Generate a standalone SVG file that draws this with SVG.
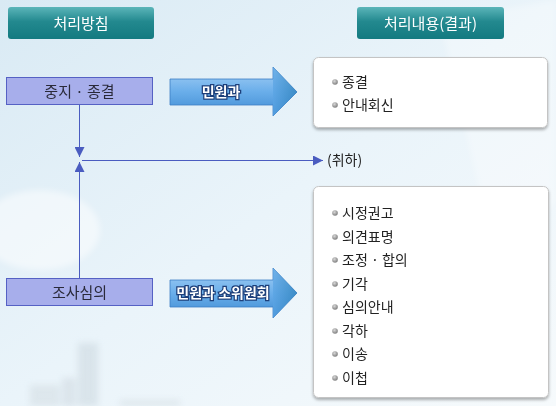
<svg xmlns="http://www.w3.org/2000/svg" width="556" height="406" viewBox="0 0 556 406">
<defs>
  <linearGradient id="bg" x1="0" y1="0" x2="1" y2="1">
    <stop offset="0" stop-color="#d9eaf4"/>
    <stop offset="0.5" stop-color="#eaf4fa"/>
    <stop offset="1" stop-color="#f6fafc"/>
  </linearGradient>
  <linearGradient id="hdr" x1="0" y1="0" x2="0" y2="1">
    <stop offset="0" stop-color="#5bb5b9"/>
    <stop offset="0.45" stop-color="#23898f"/>
    <stop offset="1" stop-color="#137a80"/>
  </linearGradient>
  <linearGradient id="arr" x1="0" y1="0" x2="0" y2="1">
    <stop offset="0" stop-color="#a8d2f6"/>
    <stop offset="0.5" stop-color="#6aaeea"/>
    <stop offset="1" stop-color="#3e8bd2"/>
  </linearGradient>
  <linearGradient id="arrhead" x1="0" y1="0" x2="1" y2="0">
    <stop offset="0" stop-color="#5aa4e4"/>
    <stop offset="1" stop-color="#2a7fb8"/>
  </linearGradient>
  <radialGradient id="dot" cx="0.4" cy="0.35" r="0.7">
    <stop offset="0" stop-color="#d8d8d8"/>
    <stop offset="1" stop-color="#777"/>
  </radialGradient>
  <filter id="sh" x="-10%" y="-10%" width="120%" height="130%">
    <feDropShadow dx="0" dy="2" stdDeviation="1.5" flood-color="#000" flood-opacity="0.3"/>
  </filter>
  <filter id="blur"><feGaussianBlur stdDeviation="3"/></filter>
  <marker id="tri" viewBox="0 0 10 10" refX="10" refY="5" markerWidth="10" markerHeight="10" markerUnits="userSpaceOnUse" orient="auto">
    <path d="M0,0 L10,5 L0,10 Z" fill="#4a5cc0"/>
  </marker>
  <style>
    .hdr-t{font-family:"Noto Sans CJK KR","Noto Sans",sans-serif;font-size:15px;fill:#fff;text-anchor:middle}
    .box{fill:#a7aeeb;stroke:#5561c4;stroke-width:1}
    .box-t{font-family:"Noto Sans CJK KR","Noto Sans",sans-serif;font-size:15px;fill:#2a2a3a;text-anchor:middle}
    .res{fill:#fff;stroke:#c4c4c4;stroke-width:1}
    .item{font-family:"Noto Sans CJK KR","Noto Sans",sans-serif;font-size:14px;fill:#222}
    .arr-t{font-family:"Noto Sans CJK KR","Noto Sans",sans-serif;font-size:14px;font-weight:bold;fill:#fff;stroke:#1d3f7a;stroke-width:2.5;paint-order:stroke;text-anchor:middle}
    .line{stroke:#4a5cc0;stroke-width:1;fill:none}
    .lbl{font-family:"Noto Sans CJK KR","Noto Sans",sans-serif;font-size:14px;fill:#222}
  </style>
</defs>

<rect x="0" y="0" width="556" height="406" fill="url(#bg)"/>
<!-- faint background scenery -->
<g opacity="0.5" filter="url(#blur)">
  <ellipse cx="40" cy="230" rx="60" ry="40" fill="#fff"/>
  <rect x="78" y="343" width="20" height="63" fill="#c8d4dc"/>
  <rect x="62" y="378" width="14" height="28" fill="#ccd6de"/>
  <rect x="30" y="385" width="30" height="21" fill="#d0dae0"/>
  <rect x="120" y="400" width="60" height="6" fill="#d0dae0"/>
  <path d="M440 20 L556 0 L556 200 L500 280 Z" fill="#ffffff" opacity="0.6"/>
</g>

<g id="header-policy">
  <rect x="8" y="7" width="146" height="32" rx="3" fill="url(#hdr)"/>
  <text class="hdr-t" x="81" y="28.5">처리방침</text>
</g>
<g id="header-result">
  <rect x="357" y="7" width="147" height="32" rx="3" fill="url(#hdr)"/>
  <text class="hdr-t" x="430.5" y="28.5">처리내용(결과)</text>
</g>

<g id="node-stop">
  <rect class="box" x="6.5" y="77.5" width="146" height="27"/>
  <text class="box-t" x="79.5" y="96.5">중지 · 종결</text>
</g>
<g id="node-review">
  <rect class="box" x="6.5" y="278.5" width="146" height="27"/>
  <text class="box-t" x="79.5" y="297.5">조사심의</text>
</g>

<g id="arrow-1">
  <path d="M170,79 L273,79 L273,67 L297,92 L273,116 L273,105 L170,105 Z" fill="url(#arr)" stroke="#3d7fc4" stroke-width="0.8"/>
  <path d="M273,67 L297,92 L273,116 Z" fill="url(#arrhead)" opacity="0.7"/>
  <text class="arr-t" x="221" y="97">민원과</text>
</g>
<g id="arrow-2">
  <path d="M170,280 L273,280 L273,268 L297,293 L273,318 L273,307 L170,307 Z" fill="url(#arr)" stroke="#3d7fc4" stroke-width="0.8"/>
  <path d="M273,268 L297,293 L273,318 Z" fill="url(#arrhead)" opacity="0.7"/>
  <text class="arr-t" x="223" y="298">민원과 소위원회</text>
</g>

<g id="result-1">
  <rect class="res" x="313.5" y="57.5" width="234" height="70" rx="5" filter="url(#sh)"/>
  <circle cx="335" cy="82" r="2.8" fill="url(#dot)"/>
  <text class="item" x="342" y="87">종결</text>
  <circle cx="335" cy="105" r="2.8" fill="url(#dot)"/>
  <text class="item" x="342" y="110">안내회신</text>
</g>

<g id="result-2">
  <rect class="res" x="313.5" y="186.5" width="235" height="211" rx="5" filter="url(#sh)"/>
  <circle cx="335" cy="213" r="2.8" fill="url(#dot)"/>
  <text class="item" x="342" y="218">시정권고</text>
  <circle cx="335" cy="237" r="2.8" fill="url(#dot)"/>
  <text class="item" x="342" y="242">의견표명</text>
  <circle cx="335" cy="260" r="2.8" fill="url(#dot)"/>
  <text class="item" x="342" y="265">조정 · 합의</text>
  <circle cx="335" cy="284" r="2.8" fill="url(#dot)"/>
  <text class="item" x="342" y="289">기각</text>
  <circle cx="335" cy="307" r="2.8" fill="url(#dot)"/>
  <text class="item" x="342" y="312">심의안내</text>
  <circle cx="335" cy="331" r="2.8" fill="url(#dot)"/>
  <text class="item" x="342" y="336">각하</text>
  <circle cx="335" cy="354" r="2.8" fill="url(#dot)"/>
  <text class="item" x="342" y="359">이송</text>
  <circle cx="335" cy="378" r="2.8" fill="url(#dot)"/>
  <text class="item" x="342" y="383">이첩</text>
</g>

<g id="withdraw-label">
  <text class="lbl" x="327" y="165">(취하)</text>
</g>

<g id="connectors">
  <line class="line" x1="79.5" y1="105" x2="79.5" y2="157" marker-end="url(#tri)"/>
  <line class="line" x1="79.5" y1="278" x2="79.5" y2="162" marker-end="url(#tri)"/>
  <line class="line" x1="82" y1="160.5" x2="323" y2="160.5" marker-end="url(#tri)"/>
</g>
</svg>
